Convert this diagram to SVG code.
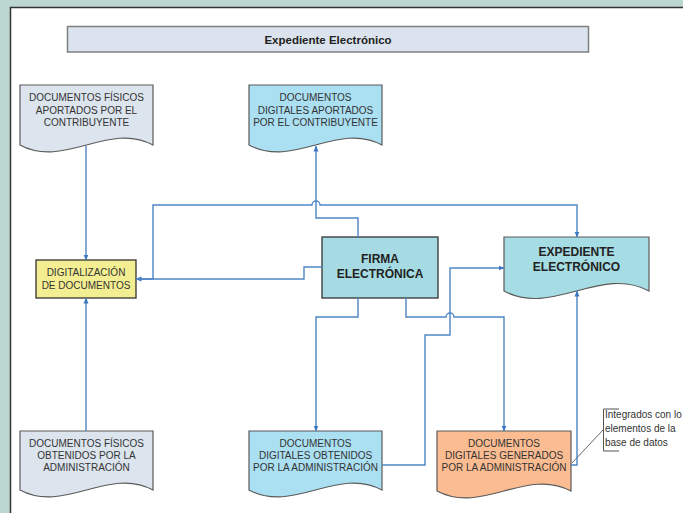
<svg xmlns="http://www.w3.org/2000/svg" width="683" height="513" viewBox="0 0 683 513">
<style>
.doc{stroke:#5a5a5a;stroke-width:1.2}
.t{font-family:"Liberation Sans",Arial,sans-serif;font-size:10px;fill:#333;text-anchor:middle}
.tb{font-family:"Liberation Sans",Arial,sans-serif;font-size:12px;font-weight:bold;fill:#222;text-anchor:middle}
.c{fill:none;stroke:#4f86c6;stroke-width:1.4}
</style>
<defs>
<marker id="ar" markerUnits="userSpaceOnUse" markerWidth="6" markerHeight="6" refX="5.5" refY="3" orient="auto">
<path d="M0,0.5 L6,3 L0,5.5 z" fill="#3f78c0"/>
</marker>
</defs>
<rect x="0" y="0" width="683" height="513" fill="#bcd6d2"/>
<rect x="10.5" y="7.5" width="673" height="506" fill="#ffffff"/>
<path d="M10.5,513 V7.5 H683" fill="none" stroke="#333" stroke-width="1.5"/>

<g id="title">
<rect x="67.5" y="26.5" width="521" height="25.5" fill="#dbe4ee" stroke="#7f7f7f" stroke-width="1.5"/>
<text x="328" y="43.5" class="tb" style="font-size:11.5px">Expediente Electrónico</text>
</g>

<g id="doc-fisicos-aportados">
<path class="doc" d="M20,85 H153 V145 C109,121 64,169 20,145 Z" fill="#dce4ee"/>
<text class="t" x="86.5" y="101">DOCUMENTOS FÍSICOS</text>
<text class="t" x="86.5" y="113.5">APORTADOS POR EL</text>
<text class="t" x="86.5" y="126">CONTRIBUYENTE</text>
</g>

<g id="doc-digitales-aportados">
<path class="doc" d="M249,85 H382 V145 C338,121 293,169 249,145 Z" fill="#abdff2"/>
<text class="t" x="315.5" y="101">DOCUMENTOS</text>
<text class="t" x="315.5" y="113.5">DIGITALES APORTADOS</text>
<text class="t" x="315.5" y="126">POR EL CONTRIBUYENTE</text>
</g>

<g id="digitalizacion">
<rect x="36" y="260" width="100" height="38" fill="#f3ee91" stroke="#333" stroke-width="1.3"/>
<text class="t" x="86" y="275.5">DIGITALIZACIÓN</text>
<text class="t" x="86" y="288.5">DE DOCUMENTOS</text>
</g>

<g id="firma">
<rect x="322" y="237" width="116" height="61" fill="#a6dbe3" stroke="#333" stroke-width="1.3"/>
<text class="tb" x="380" y="263.3">FIRMA</text>
<text class="tb" x="380" y="278.3">ELECTRÓNICA</text>
</g>

<g id="expediente">
<path class="doc" d="M504,237 H649 V291 C601,265 552,317 504,291 Z" fill="#a6dce3"/>
<text class="tb" x="576.5" y="256.3">EXPEDIENTE</text>
<text class="tb" x="576.5" y="271.3">ELECTRÓNICO</text>
</g>

<g id="doc-fisicos-obtenidos">
<path class="doc" d="M20,431 H153 V490 C109,466 64,514 20,490 Z" fill="#dce4ee"/>
<text class="t" x="86.5" y="446.5">DOCUMENTOS FÍSICOS</text>
<text class="t" x="86.5" y="458.5">OBTENIDOS POR LA</text>
<text class="t" x="86.5" y="470.5">ADMINISTRACIÓN</text>
</g>

<g id="doc-digitales-obtenidos">
<path class="doc" d="M249,431 H382 V490 C338,466 293,514 249,490 Z" fill="#abdff2"/>
<text class="t" x="315.5" y="446.5">DOCUMENTOS</text>
<text class="t" x="315.5" y="458.5">DIGITALES OBTENIDOS</text>
<text class="t" x="315.5" y="470.5">POR LA ADMINISTRACIÓN</text>
</g>

<g id="doc-digitales-generados">
<path class="doc" d="M437,431 H571 V491 C526,467 482,515 437,491 Z" fill="#fbbc91"/>
<text class="t" x="504" y="446.5">DOCUMENTOS</text>
<text class="t" x="504" y="459">DIGITALES GENERADOS</text>
<text class="t" x="504" y="471">POR LA ADMINISTRACIÓN</text>
</g>

<g id="annotation">
<path d="M572,463 L603,430" fill="none" stroke="#555" stroke-width="0.9"/>
<path d="M619,409 H603.5 V451 H619" fill="none" stroke="#555" stroke-width="1"/>
<text x="605" y="418" style="font-family:'Liberation Sans',Arial,sans-serif;font-size:10px;fill:#333">Integrados con lo</text>
<text x="605" y="432" style="font-family:'Liberation Sans',Arial,sans-serif;font-size:10px;fill:#333">elementos de la</text>
<text x="605" y="446" style="font-family:'Liberation Sans',Arial,sans-serif;font-size:10px;fill:#333">base de datos</text>
</g>

<g id="connectors">
<path class="c" d="M86,146 V260" marker-end="url(#ar)"/>
<path class="c" d="M86,431 V298" marker-end="url(#ar)"/>
<path class="c" d="M322,267 H304 V279 H136" marker-end="url(#ar)"/>
<path class="c" d="M136,279 H153 V205 H312 A4,4 0 0 1 320,205 H577 V237" marker-end="url(#ar)"/>
<path class="c" d="M358,237 V218 H316 V146" marker-end="url(#ar)"/>
<path class="c" d="M358,298 V317 H316 V431" marker-end="url(#ar)"/>
<path class="c" d="M406,298 V317 H446 A4,4 0 0 1 454,317 H504 V431" marker-end="url(#ar)"/>
<path class="c" d="M382,465 H425 V335 H450 V268 H504" marker-end="url(#ar)"/>
<path class="c" d="M571,465 H577 V291" marker-end="url(#ar)"/>
</g>
</svg>
